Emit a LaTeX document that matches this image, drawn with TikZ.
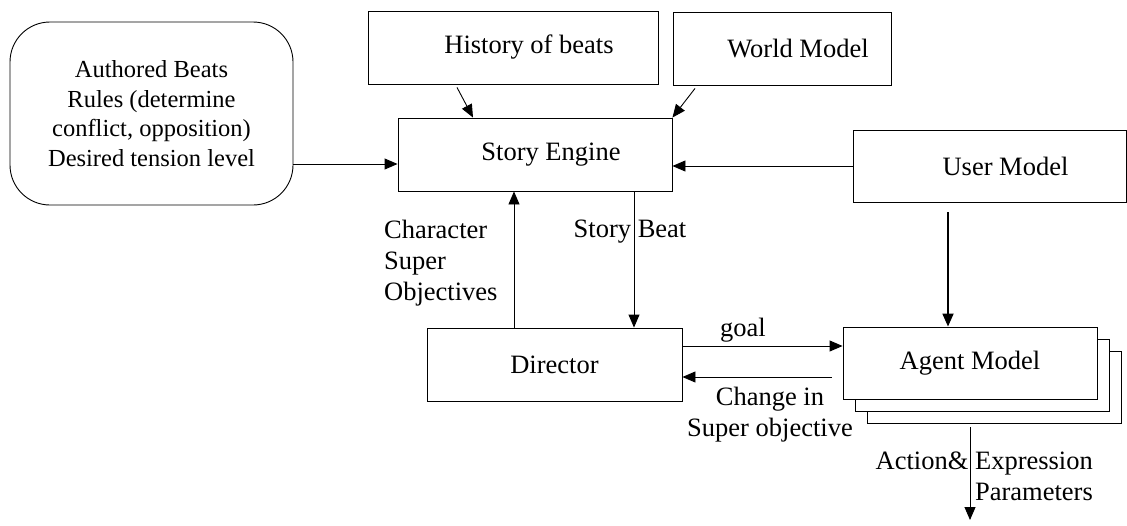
\documentclass[tikz,border=0pt]{standalone}
\usepackage{fontspec}
\setmainfont{Liberation Serif}
\usetikzlibrary{arrows.meta}

\begin{document}
\begin{tikzpicture}[x=1pt,y=-1pt,
  every node/.style={font=\fontsize{26.5}{31}\selectfont, inner sep=0pt},
  box/.style={draw, line width=0.9pt, rectangle, align=center},
  offbox/.style={box, execute at begin node=\hspace*{32pt}},
  arr/.style={line width=0.9pt, -{Triangle[length=13pt,width=11pt]}},
  lbl/.style={align=left}]

\useasboundingbox (0,0) rectangle (1127,525);

% boxes on top
\node[box, rounded corners=40pt, minimum width=283pt, minimum height=183pt,
  font=\fontsize{24.5}{29.5}\selectfont] (authored) at (151.5,113.5)
  {Authored Beats\\Rules (determine\\conflict, opposition)\\Desired tension level};
\node[offbox, minimum width=290pt, minimum height=73pt] (history) at (513,47.5) {History of beats};
\node[offbox, minimum width=218pt, minimum height=73pt] (world) at (782,48.5) {World Model};
\node[offbox, minimum width=274pt, minimum height=73pt] (engine) at (535,154.5) {Story Engine};
\node[offbox, minimum width=273pt, minimum height=72pt] (user) at (989.5,166) {User Model};

% lower boxes
\node[box, minimum width=255pt, minimum height=73pt] (director) at (554.5,364.5) {Director};
\node[box, fill=white, minimum width=254pt, minimum height=72pt] (agentc) at (994,387) {};
\node[box, fill=white, minimum width=254pt, minimum height=72pt] (agentb) at (982,375) {};
\node[box, fill=white, minimum width=254pt, minimum height=72pt] (agent) at (970,363) {Agent Model};

% inputs to the story engine
\coordinate (inA) at ([yshift=-9.5pt]engine.west);
\draw[arr] (authored.east |- inA) -- (inA);
\draw[arr] ([xshift=-56pt,yshift=-3pt]history.south) -- ([xshift=-62pt]engine.north);
\draw[arr] ([xshift=-87pt,yshift=-3pt]world.south) -- (engine.north east);
\draw[arr] (user.west) -- (user.west -| engine.east);

% engine <-> director
\coordinate (upA) at ([xshift=-40.5pt]director.north);
\draw[arr] (upA) -- (upA |- engine.south);
\coordinate (dnA) at ([xshift=99pt]engine.south);
\draw[arr] (dnA) -- (dnA |- director.north);

% director <-> agent
\coordinate (goA) at ([yshift=18.5pt]director.east);
\draw[arr] (goA) -- (goA -| agent.west);
\coordinate (chA) at ([xshift=-11pt,yshift=-14pt]agent.west);
\draw[arr] (chA) -- (chA -| director.east);

% user model to agent, agent output
\coordinate (umA) at ([xshift=-41.5pt,yshift=-10pt]user.south);
\draw[arr, line width=1.8pt] (umA) -- (umA |- agent.north);
\coordinate (outA) at ([yshift=-4pt]agentc.south -| agent.south);
\coordinate (outB) at (970,520);
\draw[arr] (outA) -- (outB);

% labels
\node[lbl, anchor=west] (charlbl) at (384,263) {Character\\Super\\Objectives};
\node (beatlbl) at (630,232) {Story Beat};
\node (goallbl) at (743,330) {goal};
\node[align=center] (changelbl) at (770,415) {Change in\\Super objective};
\node[align=right, anchor=east] (actlbl) at (1093,476) {Action\& Expression\\Parameters};

\end{tikzpicture}
\end{document}
